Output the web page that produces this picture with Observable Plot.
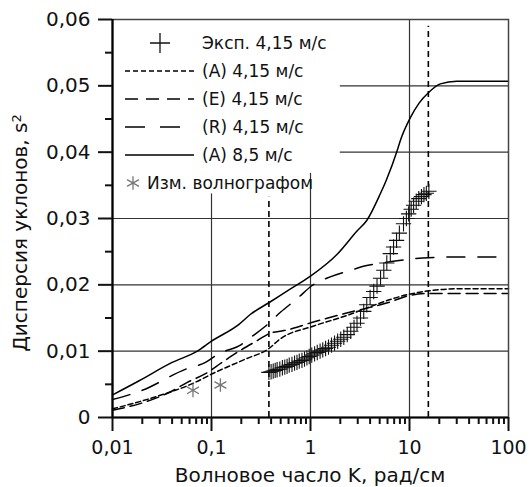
<!DOCTYPE html>
<html><head><meta charset="utf-8">
<script src="https://cdn.jsdelivr.net/npm/d3@7"></script>
<script src="https://cdn.jsdelivr.net/npm/@observablehq/plot@0.6"></script>
<style>body{margin:0;background:#fff}#chart{width:532px;height:487px}</style>
</head><body><div id="chart"></div>
<script>
// ---- ticks ----
const xTicks = [0.01, 0.1, 1, 10, 100];
const xTickLabels = ["0,01", "0,1", "1", "10", "100"];
const xMinorTicks = [0.02,0.03,0.04,0.05,0.06,0.07,0.08,0.09,0.2,0.3,0.4,0.5,0.6,0.7,0.8,0.9,2,3,4,5,6,7,8,9,20,30,40,50,60,70,80,90];
const yTicks = [0, 0.01, 0.02, 0.03, 0.04, 0.05, 0.06];
const yTickLabels = ["0", "0,01", "0,02", "0,03", "0,04", "0,05", "0,06"];
const yMinorTicks = [0.005, 0.015, 0.025, 0.035, 0.045, 0.055];

// ---- series ----
const kA85 = [0.01,0.0184,0.04,0.072,0.1,0.188,0.25,0.38,0.6,1,1.86,2.95,3.7,5.1,5.8,7.5,8.1,10.2,12.5,15.6,20.5,30,50,100];
const sA85 = [0.0034,0.0055,0.0083,0.0100,0.0115,0.0140,0.0156,0.0173,0.0192,0.0213,0.0246,0.0281,0.0297,0.0338,0.0357,0.0402,0.0418,0.0452,0.0474,0.0490,0.0503,0.0507,0.0507,0.0507];

const kR = [0.01,0.02,0.055,0.087,0.118,0.2,0.25,0.34,0.5,0.73,1.04,1.58,2.54,3.7,5.9,9.4,15.5,30,100];
const sR = [0.0027,0.0041,0.0073,0.0083,0.0096,0.0110,0.0121,0.0136,0.0159,0.0179,0.0199,0.0212,0.0222,0.0229,0.0234,0.0238,0.0241,0.0242,0.0242];

const kE = [0.01,0.02,0.04,0.057,0.087,0.128,0.2,0.29,0.39,0.54,0.73,0.92,1.5,2.54,4,6.3,10,15.5,30,100];
const sE = [0.0011,0.0022,0.0040,0.0053,0.0066,0.0083,0.0102,0.0116,0.0127,0.0131,0.0136,0.0141,0.0150,0.0159,0.0166,0.0174,0.0184,0.0187,0.0187,0.0187];

const kA = [0.01,0.027,0.064,0.109,0.22,0.38,0.49,1.08,2.35,3.7,6.4,9.4,15.7,30,100];
const sA = [0.0013,0.0031,0.0051,0.0068,0.0088,0.0104,0.0118,0.0138,0.0154,0.0165,0.0178,0.0185,0.0191,0.0194,0.0194];

const kExp = [0.38,0.40,0.42,0.44,0.46,0.49,0.52,0.55,0.58,0.61,0.65,0.69,0.73,0.77,0.82,0.87,0.92,0.97,1.03,1.1,1.17,1.25,1.33,1.42,1.52,1.63,1.75,1.88,2.02,2.17,2.35,2.55,2.75,2.95,3.2,3.45,3.7,4.0,4.35,4.7,5.1,5.5,5.9,6.4,6.9,7.4,7.9,8.7,9.3,9.8,10.4,11.0,11.7,12.4,13.2,14.0,14.8,15.7];
const sExp = [0.0068,0.0069,0.0070,0.0071,0.0072,0.0073,0.0075,0.0076,0.0077,0.0079,0.0080,0.0082,0.0083,0.0085,0.0086,0.0088,0.0090,0.0092,0.0094,0.0096,0.0098,0.0100,0.0102,0.0104,0.0106,0.0109,0.0112,0.0115,0.0118,0.0121,0.0125,0.0130,0.0136,0.0142,0.0150,0.0160,0.0170,0.0181,0.0190,0.0198,0.0210,0.0222,0.0233,0.0247,0.0257,0.0267,0.0278,0.0292,0.0300,0.0307,0.0314,0.0320,0.0326,0.0330,0.0333,0.0336,0.0338,0.0341];

const kWave = [0.065, 0.123];
const sWave = [0.0041, 0.0049];

const refK = [0.38, 15.5];
const refTop = [0.0332, 0.059];

const legendLabels = ["Эксп. 4,15 м/с", "(A) 4,15 м/с", "(E) 4,15 м/с", "(R) 4,15 м/с", "(A) 8,5 м/с", "Изм. волнографом"];
const xTitle = "Волновое часло K, рад/см";
const yTitle = "Дисперсия уклонов, s";

// ---- build tables ----
const zip = (ks, ss) => ks.map((k, i) => ({k, s: ss[i]}));
const dA85 = zip(kA85, sA85), dR = zip(kR, sR), dE = zip(kE, sE), dA = zip(kA, sA);
const dExp = zip(kExp, sExp), dWave = zip(kWave, sWave);
const dRef = refK.map((k, i) => ({k, top: refTop[i]}));

const FONT = "DejaVu Sans, Liberation Sans, sans-serif";
const GRID = "#333";

const plot = Plot.plot({
  width: 532, height: 487,
  marginLeft: 112, marginRight: 24, marginTop: 19, marginBottom: 70,
  style: {fontFamily: FONT, fontSize: "19px", background: "#fff", color: "#111"},
  x: {type: "log", domain: [0.01, 100]},
  y: {domain: [0, 0.06]},
  marks: [
    // grid
    Plot.ruleY([0.01, 0.02, 0.03], {y: d => d, x1: 0.01, x2: 100, stroke: GRID, strokeWidth: 1.2}),
    Plot.ruleY([0.04, 0.05], {y: d => d, x1: 2.0, x2: 100, stroke: GRID, strokeWidth: 1.2}),
    Plot.ruleX([{k: 0.1, t: 0.0337}, {k: 1, t: 0.0368}, {k: 10, t: 0.06}], {x: "k", y1: 0, y2: "t", stroke: GRID, strokeWidth: 1.2}),
    // reference dashed verticals
    Plot.ruleX(dRef, {x: "k", y1: 0, y2: "top", stroke: "#000", strokeWidth: 1.6, strokeDasharray: "6,4"}),
    // curves
    Plot.line(dA85, {x: "k", y: "s", stroke: "#000", strokeWidth: 1.5, curve: "monotone-x"}),
    Plot.line(dR, {x: "k", y: "s", stroke: "#000", strokeWidth: 1.5, strokeDasharray: "18,13", curve: "monotone-x"}),
    Plot.line(dE, {x: "k", y: "s", stroke: "#000", strokeWidth: 1.5, strokeDasharray: "12,6", curve: "monotone-x"}),
    Plot.line(dA, {x: "k", y: "s", stroke: "#000", strokeWidth: 1.5, strokeDasharray: "5,3", curve: "monotone-x"}),
    // points
    Plot.dot(dExp, {x: "k", y: "s", symbol: "plus", r: 5, stroke: "#111", strokeWidth: 1.1}),
    Plot.dot(dWave, {x: "k", y: "s", symbol: "asterisk", r: 6.5, stroke: "#777", strokeWidth: 1.3}),
    // frame and axes
    Plot.frame({stroke: "#444", strokeWidth: 1.5}),
    Plot.ruleX([0.01], {stroke: "#000", strokeWidth: 2.2}),
    Plot.ruleY([0], {stroke: "#000", strokeWidth: 2.2}),
    Plot.axisX({ticks: xTicks, tickFormat: d => xTickLabels[xTicks.indexOf(d)], tickSize: 14, tickPadding: 9, strokeWidth: 2, label: null, fontSize: 19}),
    Plot.axisX({ticks: xMinorTicks, tickFormat: () => "", tickSize: 7, strokeWidth: 2, label: null}),
    Plot.axisY({ticks: yTicks, tickFormat: d => yTickLabels[yTicks.indexOf(d)], tickSize: 14, tickPadding: 8, strokeWidth: 2, label: null, fontSize: 20}),
    Plot.axisY({ticks: yMinorTicks, tickFormat: () => "", tickSize: 7, strokeWidth: 2, label: null})
  ]
});

document.getElementById("chart").appendChild(plot);

// ---- legend and titles ----
const svg = d3.select(plot);
const lg = svg.append("g").attr("font-family", FONT).attr("font-size", 17).attr("fill", "#111").attr("text-anchor", "start");
const rowY = [43, 71, 99, 127, 155, 183];
const dashes = [null, "5,3", "13,8", "20,15", "none"];
legendLabels.forEach((t, i) => {
  if (i === 5) {
    const sym = d3.symbol(d3.symbolAsterisk, Math.PI * 6.5 * 6.5);
    lg.append("path").attr("d", sym()).attr("transform", `translate(133,${rowY[i]})`).attr("fill", "none").attr("stroke", "#777").attr("stroke-width", 1.3);
    lg.append("text").attr("x", 147).attr("y", rowY[i]).attr("dy", "0.35em").attr("text-anchor", "start").text(t);
    return;
  }
  if (i === 0) {
    const sym = d3.symbol(d3.symbolPlus, Math.PI * 6.5 * 6.5);
    lg.append("path").attr("d", sym()).attr("transform", `translate(160,${rowY[i]})`).attr("fill", "none").attr("stroke", "#111").attr("stroke-width", 1.3);
  } else {
    lg.append("line").attr("x1", 125).attr("x2", 194).attr("y1", rowY[i]).attr("y2", rowY[i])
      .attr("stroke", "#000").attr("stroke-width", 1.5).attr("stroke-dasharray", dashes[i]);
  }
  lg.append("text").attr("x", 202).attr("y", rowY[i]).attr("dy", "0.35em").attr("text-anchor", "start").text(t);
});

svg.append("text").attr("x", 310).attr("y", 482).attr("text-anchor", "middle")
  .attr("font-family", FONT).attr("font-size", 20).attr("fill", "#111").text(xTitle);

const yt = svg.append("text").attr("transform", "translate(27,233) rotate(-90)").attr("text-anchor", "middle")
  .attr("font-family", FONT).attr("font-size", 20).attr("fill", "#111").text(yTitle);
yt.append("tspan").attr("dy", "-0.45em").attr("font-size", 13).text("2");
</script>
</body></html>
